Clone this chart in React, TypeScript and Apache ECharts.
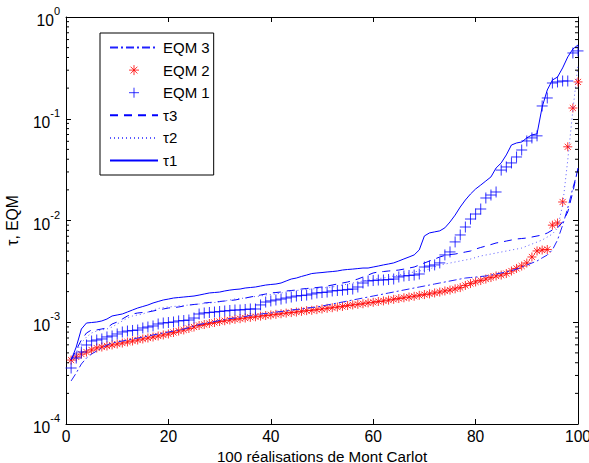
import React, { useEffect, useRef } from 'react';
import * as echarts from 'echarts';

const FONT = '"Liberation Sans", Arial, Helvetica, sans-serif';

// Monte Carlo realisation index
const REALISATIONS: number[] = [
  1, 2, 3, 4, 5, 6, 7, 8, 9, 10, 11, 12, 13, 14, 15, 16, 17, 18, 19, 20,
  21, 22, 23, 24, 25, 26, 27, 28, 29, 30, 31, 32, 33, 34, 35, 36, 37, 38, 39, 40,
  41, 42, 43, 44, 45, 46, 47, 48, 49, 50, 51, 52, 53, 54, 55, 56, 57, 58, 59, 60,
  61, 62, 63, 64, 65, 66, 67, 68, 69, 70, 71, 72, 73, 74, 75, 76, 77, 78, 79, 80,
  81, 82, 83, 84, 85, 86, 87, 88, 89, 90, 91, 92, 93, 94, 95, 96, 97, 98, 99, 100,
];

const X_TICKS = [0, 20, 40, 60, 80, 100];
const Y_DECADES = [1e-4, 1e-3, 1e-2, 1e-1];
const MINOR_MULTIPLIERS = [2, 3, 4, 5, 6, 7, 8, 9];

const EQM3: number[] = [
  2.65e-4, 3.17e-4, 3.89e-4, 4.45e-4, 4.88e-4, 5.22e-4, 5.59e-4, 5.98e-4, 6.25e-4, 6.4e-4,
  6.54e-4, 6.69e-4, 6.85e-4, 7.0e-4, 7.16e-4, 7.33e-4, 7.5e-4, 7.67e-4, 7.84e-4, 8.02e-4,
  8.2e-4, 8.39e-4, 8.58e-4, 8.88e-4, 9.19e-4, 9.5e-4, 9.72e-4, 9.94e-4, 1.017e-3, 1.04e-3,
  1.064e-3, 1.088e-3, 1.1e-3, 1.126e-3, 1.139e-3, 1.165e-3, 1.179e-3, 1.205e-3, 1.219e-3, 1.233e-3,
  1.26e-3, 1.275e-3, 1.29e-3, 1.32e-3, 1.335e-3, 1.35e-3, 1.38e-3, 1.396e-3, 1.412e-3, 1.444e-3,
  1.477e-3, 1.511e-3, 1.546e-3, 1.58e-3, 1.617e-3, 1.655e-3, 1.692e-3, 1.73e-3, 1.77e-3, 1.81e-3,
  1.852e-3, 1.894e-3, 1.938e-3, 1.982e-3, 2.028e-3, 2.074e-3, 2.122e-3, 2.17e-3, 2.22e-3, 2.27e-3,
  2.322e-3, 2.376e-3, 2.43e-3, 2.486e-3, 2.543e-3, 2.6e-3, 2.66e-3, 2.72e-3, 2.75e-3, 2.78e-3,
  2.815e-3, 2.85e-3, 2.91e-3, 2.98e-3, 3.05e-3, 3.12e-3, 3.22e-3, 3.33e-3, 3.49e-3, 3.65e-3,
  3.82e-3, 4.0e-3, 4.29e-3, 4.58e-3, 5.14e-3, 6.43e-3, 9.0e-3, 1.327e-2, 2.086e-2, 3.13e-2,
];

const EQM2: number[] = [
  4.25e-4, 4.56e-4, 4.87e-4, 5.1e-4, 5.34e-4, 5.58e-4, 5.71e-4, 5.84e-4, 5.98e-4, 6.11e-4,
  6.25e-4, 6.4e-4, 6.54e-4, 6.69e-4, 6.85e-4, 7.0e-4, 7.16e-4, 7.33e-4, 7.5e-4, 7.67e-4,
  7.93e-4, 8.2e-4, 8.4e-4, 8.68e-4, 8.98e-4, 9.29e-4, 9.5e-4, 9.72e-4, 9.94e-4, 1.017e-3,
  1.034e-3, 1.052e-3, 1.069e-3, 1.084e-3, 1.1e-3, 1.117e-3, 1.132e-3, 1.148e-3, 1.164e-3, 1.18e-3,
  1.196e-3, 1.212e-3, 1.23e-3, 1.245e-3, 1.26e-3, 1.28e-3, 1.3e-3, 1.31e-3, 1.33e-3, 1.35e-3,
  1.37e-3, 1.39e-3, 1.41e-3, 1.43e-3, 1.46e-3, 1.48e-3, 1.5e-3, 1.52e-3, 1.55e-3, 1.57e-3,
  1.6e-3, 1.62e-3, 1.65e-3, 1.68e-3, 1.71e-3, 1.74e-3, 1.77e-3, 1.8e-3, 1.84e-3, 1.87e-3,
  1.9e-3, 1.94e-3, 1.98e-3, 2.03e-3, 2.07e-3, 2.13e-3, 2.19e-3, 2.3e-3, 2.4e-3, 2.49e-3,
  2.57e-3, 2.66e-3, 2.75e-3, 2.85e-3, 2.91e-3, 3.01e-3, 3.19e-3, 3.38e-3, 3.57e-3, 3.82e-3,
  4.38e-3, 5.02e-3, 5.13e-3, 5.19e-3, 9.0e-3, 9.45e-3, 1.52e-2, 5.3e-2, 0.1275, 0.23,
];

const EQM1: number[] = [
  3.55e-4, 4.45e-4, 5.1e-4, 5.98e-4, 6.54e-4, 6.69e-4, 6.85e-4, 7.17e-4, 7.33e-4, 7.67e-4,
  8.02e-4, 8.2e-4, 8.3e-4, 8.39e-4, 8.78e-4, 8.98e-4, 9.19e-4, 9.61e-4, 9.83e-4, 9.94e-4,
  1.006e-3, 1.03e-3, 1.04e-3, 1.052e-3, 1.1e-3, 1.205e-3, 1.233e-3, 1.247e-3, 1.26e-3, 1.275e-3,
  1.29e-3, 1.305e-3, 1.32e-3, 1.32e-3, 1.335e-3, 1.35e-3, 1.35e-3, 1.48e-3, 1.58e-3, 1.62e-3,
  1.655e-3, 1.69e-3, 1.73e-3, 1.77e-3, 1.81e-3, 1.83e-3, 1.85e-3, 1.895e-3, 1.94e-3, 1.96e-3,
  1.98e-3, 2.03e-3, 2.05e-3, 2.07e-3, 2.1e-3, 2.12e-3, 2.22e-3, 2.43e-3, 2.545e-3, 2.57e-3,
  2.6e-3, 2.6e-3, 2.63e-3, 2.66e-3, 2.785e-3, 2.85e-3, 2.88e-3, 2.91e-3, 2.98e-3, 3.49e-3,
  3.57e-3, 3.66e-3, 3.83e-3, 4.59e-3, 4.91e-3, 6.16e-3, 7.21e-3, 8.63e-3, 1.034e-2, 1.158e-2,
  1.297e-2, 1.664e-2, 1.78e-2, 1.906e-2, 3.13e-2, 3.36e-2, 3.68e-2, 4.21e-2, 4.93e-2, 6.05e-2,
  6.48e-2, 6.79e-2, 0.1335, 0.16, 0.2245, 0.23, 0.235, 0.235, 0.443, 0.464,
];

const TAU3: number[] = [
  4.26e-4, 5.34e-4, 6.69e-4, 7.84e-4, 8.4e-4, 8.4e-4, 8.59e-4, 8.78e-4, 9.61e-4, 1.006e-3,
  1.076e-3, 1.152e-3, 1.205e-3, 1.233e-3, 1.247e-3, 1.26e-3, 1.29e-3, 1.32e-3, 1.35e-3, 1.38e-3,
  1.396e-3, 1.412e-3, 1.444e-3, 1.477e-3, 1.494e-3, 1.511e-3, 1.546e-3, 1.563e-3, 1.58e-3, 1.6e-3,
  1.617e-3, 1.636e-3, 1.655e-3, 1.692e-3, 1.73e-3, 1.77e-3, 1.81e-3, 1.852e-3, 1.894e-3, 1.938e-3,
  1.96e-3, 1.982e-3, 2.028e-3, 2.051e-3, 2.074e-3, 2.122e-3, 2.146e-3, 2.17e-3, 2.195e-3, 2.22e-3,
  2.27e-3, 2.322e-3, 2.376e-3, 2.43e-3, 2.486e-3, 2.57e-3, 2.66e-3, 2.78e-3, 2.91e-3, 3.05e-3,
  3.12e-3, 3.15e-3, 3.19e-3, 3.22e-3, 3.26e-3, 3.33e-3, 3.41e-3, 3.49e-3, 3.65e-3, 3.82e-3,
  4.0e-3, 4.18e-3, 4.38e-3, 4.53e-3, 4.63e-3, 4.68e-3, 4.79e-3, 4.9e-3, 5.01e-3, 5.24e-3,
  5.43e-3, 5.61e-3, 5.8e-3, 6.01e-3, 6.14e-3, 6.28e-3, 6.43e-3, 6.58e-3, 6.65e-3, 6.73e-3,
  6.88e-3, 7.04e-3, 7.2e-3, 7.53e-3, 8.06e-3, 8.44e-3, 9.66e-3, 1.212e-2, 1.906e-2, 3.28e-2,
];

const TAU2: number[] = [
  4.07e-4, 5.1e-4, 6.25e-4, 7.16e-4, 7.84e-4, 8.2e-4, 8.4e-4, 8.59e-4, 8.98e-4, 9.61e-4,
  1.029e-3, 1.1e-3, 1.152e-3, 1.179e-3, 1.205e-3, 1.26e-3, 1.32e-3, 1.364e-3, 1.396e-3, 1.412e-3,
  1.428e-3, 1.444e-3, 1.461e-3, 1.477e-3, 1.494e-3, 1.511e-3, 1.528e-3, 1.546e-3, 1.563e-3, 1.58e-3,
  1.617e-3, 1.655e-3, 1.692e-3, 1.711e-3, 1.73e-3, 1.77e-3, 1.79e-3, 1.81e-3, 1.852e-3, 1.873e-3,
  1.894e-3, 1.938e-3, 1.982e-3, 2.028e-3, 2.051e-3, 2.074e-3, 2.098e-3, 2.122e-3, 2.146e-3, 2.17e-3,
  2.195e-3, 2.22e-3, 2.27e-3, 2.322e-3, 2.376e-3, 2.43e-3, 2.486e-3, 2.543e-3, 2.6e-3, 2.66e-3,
  2.69e-3, 2.72e-3, 2.78e-3, 2.85e-3, 2.91e-3, 2.98e-3, 3.05e-3, 3.12e-3, 3.19e-3, 3.26e-3,
  3.33e-3, 3.49e-3, 3.65e-3, 3.73e-3, 3.82e-3, 3.91e-3, 4.0e-3, 4.09e-3, 4.18e-3, 4.33e-3,
  4.48e-3, 4.58e-3, 4.68e-3, 4.79e-3, 4.9e-3, 5.01e-3, 5.13e-3, 5.24e-3, 5.36e-3, 5.61e-3,
  5.87e-3, 6.14e-3, 6.43e-3, 6.88e-3, 7.36e-3, 8.44e-3, 1.42e-2, 3.93e-2, 0.122, 0.337,
];

const TAU1: number[] = [
  4.25e-4, 5.71e-4, 8.58e-4, 9.83e-4, 9.94e-4, 1.006e-3, 1.03e-3, 1.076e-3, 1.152e-3, 1.179e-3,
  1.206e-3, 1.261e-3, 1.32e-3, 1.38e-3, 1.428e-3, 1.478e-3, 1.546e-3, 1.6e-3, 1.655e-3, 1.69e-3,
  1.73e-3, 1.75e-3, 1.77e-3, 1.79e-3, 1.81e-3, 1.85e-3, 1.895e-3, 1.94e-3, 1.96e-3, 1.98e-3,
  2.03e-3, 2.07e-3, 2.1e-3, 2.12e-3, 2.17e-3, 2.195e-3, 2.22e-3, 2.27e-3, 2.32e-3, 2.35e-3,
  2.375e-3, 2.43e-3, 2.545e-3, 2.66e-3, 2.72e-3, 2.82e-3, 2.91e-3, 3.01e-3, 3.05e-3, 3.08e-3,
  3.12e-3, 3.15e-3, 3.19e-3, 3.26e-3, 3.3e-3, 3.33e-3, 3.37e-3, 3.41e-3, 3.41e-3, 3.49e-3,
  3.57e-3, 3.66e-3, 3.74e-3, 3.83e-3, 4.0e-3, 4.19e-3, 4.38e-3, 4.59e-3, 5.14e-3, 7.05e-3,
  7.55e-3, 7.73e-3, 7.91e-3, 8.47e-3, 9.67e-3, 1.13e-2, 1.357e-2, 1.59e-2, 1.82e-2, 2.04e-2,
  2.23e-2, 2.445e-2, 2.68e-2, 3.28e-2, 3.68e-2, 4.41e-2, 5.52e-2, 5.78e-2, 5.91e-2, 6.48e-2,
  6.94e-2, 7.1e-2, 0.1305, 0.1918, 0.24, 0.257, 0.316, 0.405, 0.485, 0.531,
];

const LINE_NAMES = ['EQM 3', 'τ3', 'τ2', 'τ1'];
const LEGEND_ORDER = ['EQM 3', 'EQM 2', 'EQM 1', 'τ3', 'τ2', 'τ1'];

const PLUS_PATH = 'path://M5 0L5 10M0 5L10 5';
const STAR_PATH = 'path://M5 0L5 10M0 5L10 5M1.6 1.6L8.4 8.4M8.4 1.6L1.6 8.4';

function pairs(values: number[]) {
  return values.map((v, i) => [REALISATIONS[i], v]);
}

export default function App() {
  const ref = useRef<HTMLDivElement>(null);

  useEffect(() => {
    document.body.style.margin = '0';
    if (!ref.current) return;
    const chart = echarts.init(ref.current, undefined, { renderer: 'svg' });

    const minorTicks: number[][] = [];
    Y_DECADES.forEach((d) => MINOR_MULTIPLIERS.forEach((m) => minorTicks.push([0, d * m])));

    const axisText = { color: '#000', fontFamily: FONT, fontSize: 15.6 };

    const legendData = LEGEND_ORDER.map((name) =>
      LINE_NAMES.indexOf(name) >= 0
        ? { name, itemStyle: { color: 'rgba(0,0,0,0)', borderWidth: 0, opacity: 0 } }
        : { name }
    );

    const option: any = {
      animation: false,
      backgroundColor: '#fff',
      grid: { left: 66, right: 11, top: 17, bottom: 39, containLabel: false, outerBoundsMode: 'none' },
      legend: {
        data: legendData,
        orient: 'vertical',
        left: 100,
        top: 33,
        padding: [7, 4, 7, 9],
        itemWidth: 48,
        itemHeight: 10,
        itemGap: 7.6,
        borderColor: '#000',
        borderWidth: 1,
        backgroundColor: '#fff',
        itemStyle: { borderWidth: 1 },
        textStyle: { color: '#000', fontFamily: FONT, fontSize: 15 },
      },
      xAxis: [
        {
          type: 'value', min: 0, max: 100, interval: 20, position: 'bottom',
          name: '100 réalisations de Mont Carlot', nameLocation: 'middle', nameGap: 15,
          nameTextStyle: { color: '#000', fontFamily: FONT, fontSize: 15.2, lineHeight: 14 },
          axisLine: { show: true, onZero: false, lineStyle: { color: '#000', width: 1 } },
          axisTick: { show: true, inside: true, length: 5, lineStyle: { color: '#000' } },
          axisLabel: { ...axisText, margin: 4, showMaxLabel: true, showMinLabel: true },
          splitLine: { show: false },
        },
        {
          type: 'value', min: 0, max: 100, interval: 20, position: 'top',
          axisLine: { show: true, onZero: false, lineStyle: { color: '#000', width: 1 } },
          axisTick: { show: true, inside: true, length: 5, lineStyle: { color: '#000' } },
          axisLabel: { show: false },
          splitLine: { show: false },
        },
      ],
      yAxis: [
        {
          type: 'log', logBase: 10, min: 1e-4, max: 1, splitNumber: 4, position: 'left',
          name: 'τ, EQM', nameLocation: 'middle', nameGap: 46, nameTextStyle: axisText,
          axisLine: { show: true, onZero: false, lineStyle: { color: '#000', width: 1 } },
          axisTick: { show: true, inside: true, length: 5, lineStyle: { color: '#000' } },
          axisLabel: {
            margin: 6,
            formatter: (v: number) => `{b|10}{e|${Math.round(Math.log10(v))}}`,
            rich: {
              b: { color: '#000', fontFamily: FONT, fontSize: 15.6, padding: [7, 0, 0, 0] },
              e: { color: '#000', fontFamily: FONT, fontSize: 11, verticalAlign: 'top' },
            },
          },
          splitLine: { show: false },
        },
        {
          type: 'log', logBase: 10, min: 1e-4, max: 1, splitNumber: 4, position: 'right',
          axisLine: { show: true, onZero: false, lineStyle: { color: '#000', width: 1 } },
          axisTick: { show: true, inside: true, length: 5, lineStyle: { color: '#000' } },
          axisLabel: { show: false },
          splitLine: { show: false },
        },
      ],
      series: [
        {
          name: 'EQM 3', type: 'line', data: pairs(EQM3), symbol: 'none', showSymbol: false,
          lineStyle: { color: '#2020ff', width: 1, type: [8, 3, 2, 3] }, itemStyle: { color: '#2020ff' },
        },
        {
          name: 'EQM 2', type: 'scatter', data: pairs(EQM2), symbol: STAR_PATH, symbolSize: 9,
          symbolKeepAspect: true,
          itemStyle: { color: 'rgba(255,0,0,0)', borderColor: '#ff0000', borderWidth: 1 },
        },
        {
          name: 'EQM 1', type: 'scatter', data: pairs(EQM1), symbol: PLUS_PATH, symbolSize: 11,
          symbolKeepAspect: true,
          itemStyle: { color: 'rgba(0,0,255,0)', borderColor: '#0000ff', borderWidth: 1 },
        },
        {
          name: 'τ3', type: 'line', data: pairs(TAU3), symbol: 'none', showSymbol: false,
          lineStyle: { color: '#0000ff', width: 1, type: [8, 6] }, itemStyle: { color: '#0000ff' },
        },
        {
          name: 'τ2', type: 'line', data: pairs(TAU2), symbol: 'none', showSymbol: false,
          lineStyle: { color: '#5a5aff', width: 1, type: [1, 3] }, itemStyle: { color: '#5a5aff' },
        },
        {
          name: 'τ1', type: 'line', data: pairs(TAU1), symbol: 'none', showSymbol: false,
          lineStyle: { color: '#0000ff', width: 1, type: 'solid' }, itemStyle: { color: '#0000ff' },
        },
        {
          name: 'minorTicks', type: 'custom', coordinateSystem: 'cartesian2d',
          xAxisIndex: 0, yAxisIndex: 0, silent: true, clip: false, z: 10,
          data: minorTicks, encode: { x: 0, y: 1 },
          renderItem: (_params: any, api: any) => {
            const v = api.value(1);
            const left = api.coord([X_TICKS[0], v]);
            const right = api.coord([X_TICKS[X_TICKS.length - 1], v]);
            return {
              type: 'group',
              children: [
                { type: 'line', shape: { x1: left[0], y1: left[1], x2: left[0] + 3, y2: left[1] }, style: { stroke: '#000', lineWidth: 1 } },
                { type: 'line', shape: { x1: right[0] - 3, y1: right[1], x2: right[0], y2: right[1] }, style: { stroke: '#000', lineWidth: 1 } },
              ],
            };
          },
        },
      ],
    };

    chart.setOption(option);
    return () => chart.dispose();
  }, []);

  return (
    <div
      ref={ref}
      style={{ position: 'absolute', left: 0, top: 0, width: 589, height: 463, background: '#fff' }}
    />
  );
}
